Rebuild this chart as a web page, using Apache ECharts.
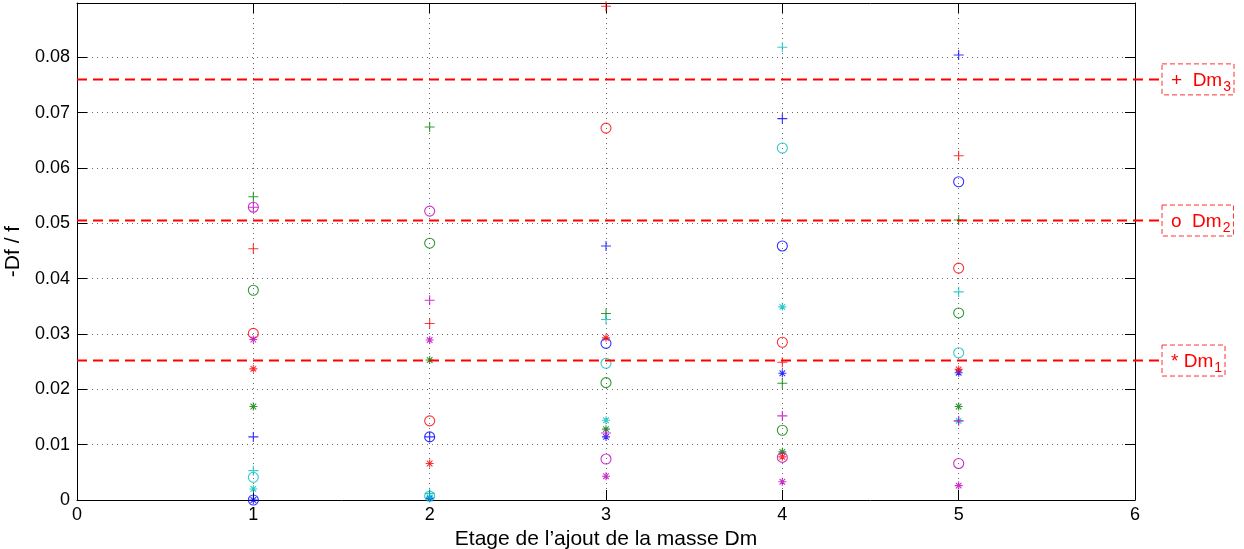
<!DOCTYPE html>
<html>
<head>
<meta charset="utf-8">
<title>Df/f</title>
<script src="https://cdn.jsdelivr.net/npm/echarts@6/dist/echarts.min.js"></script>
<style>
  html, body { margin: 0; padding: 0; background: #fff; }
  #chart { width: 1244px; height: 549px; }
</style>
</head>
<body>
<div id="chart"></div>
<script>
// etages (axe x)
var etages = [1, 2, 3, 4, 5];

// -Df/f, par couleur et par marqueur (+ : Dm3, o : Dm2, * : Dm1)
var bleuPlus = [0.0114, 0.0114, 0.0459, 0.0689, 0.0804];
var bleuRond = [0.0, 0.0114, 0.0283, 0.0459, 0.0575];
var bleuEtoile = [0.0, 0.0003, 0.0114, 0.0229, 0.0230];

var vertPlus = [0.0548, 0.0674, 0.0337, 0.0211, 0.0506];
var vertRond = [0.0379, 0.0464, 0.0212, 0.0126, 0.0338];
var vertEtoile = [0.0169, 0.0253, 0.0128, 0.0087, 0.0169];

var rougePlus = [0.0454, 0.0319, 0.0892, 0.0249, 0.0622];
var rougeRond = [0.0301, 0.0143, 0.0672, 0.0285, 0.0419];
var rougeEtoile = [0.0237, 0.0066, 0.0293, 0.0078, 0.0236];

var cyanPlus = [0.0053, 0.0012, 0.0326, 0.0818, 0.0376];
var cyanRond = [0.0041, 0.0007, 0.0247, 0.0636, 0.0266];
var cyanEtoile = [0.0020, 0.0005, 0.0144, 0.0349, 0.0143];

var magentaPlus = [0.0529, 0.0361, 0.0121, 0.0152, 0.0143];
var magentaRond = [0.0529, 0.0522, 0.0074, 0.0077, 0.0066];
var magentaEtoile = [0.0290, 0.0289, 0.0043, 0.0033, 0.0026];

// niveaux de reference (lignes rouges en tirets)
var refNoms = ['Dm1', 'Dm2', 'Dm3'];
var refSymboles = ['*', 'o', '+'];
var refIndices = ['1', '2', '3'];
var refNiveaux = [0.0252, 0.0505, 0.0760];

var xMin = 0, xMax = 6, xPas = 1;
var yMin = 0, yMax = 0.0898, yPas = 0.01;

var police = '"Liberation Sans", Arial, Helvetica, sans-serif';

var couleurs = {
  bleu: '#0000ff',
  vert: '#008000',
  rouge: '#ff0000',
  cyan: '#00bfbf',
  magenta: '#bf00bf'
};

// symboles facon matlab
var symPlus = 'path://M0,-5L0,5M-5,0L5,0';
var symEtoile = 'path://M0,-5L0,5M-5,0L5,0M-3.5,-3.5L3.5,3.5M-3.5,3.5L3.5,-3.5';

var groupes = [
  ['bleu', bleuPlus, bleuRond, bleuEtoile],
  ['vert', vertPlus, vertRond, vertEtoile],
  ['rouge', rougePlus, rougeRond, rougeEtoile],
  ['cyan', cyanPlus, cyanRond, cyanEtoile],
  ['magenta', magentaPlus, magentaRond, magentaEtoile]
];

function points(valeurs) {
  return etages.map(function(e, i) {
    return [e, valeurs[i]];
  });
}

function nuage(nom, couleur, valeurs, symbole, taille) {
  return {
    name: nom,
    type: 'scatter',
    xAxisIndex: 0,
    yAxisIndex: 0,
    symbol: symbole,
    symbolSize: taille,
    clip: true,
    silent: true,
    itemStyle: {
      color: 'none',
      borderColor: couleur,
      borderWidth: 1.1
    },
    data: points(valeurs)
  };
}

var series = [];
groupes.forEach(function(g) {
  var c = couleurs[g[0]];
  series.push(nuage(g[0] + ' +', c, g[1], symPlus, 10));
  series.push(nuage(g[0] + ' o', c, g[2], 'circle', 10));
  series.push(nuage(g[0] + ' *', c, g[3], symEtoile, 8));
});

// lignes de reference, dans une seconde grille plus large a droite
refNiveaux.forEach(function(v, i) {
  series.push({
    name: refNoms[i],
    type: 'line',
    xAxisIndex: 2,
    yAxisIndex: 2,
    symbol: 'none',
    silent: true,
    lineStyle: {
      color: '#ff0000',
      width: 2,
      type: [10, 6]
    },
    endLabel: {
      show: true,
      distance: 0,
      formatter: '{t|' + refSymboles[i] + (i === 0 ? ' ' : '  ') + 'Dm}{s|' + refIndices[i] + '}',
      color: '#ff0000',
      borderColor: '#ff3030',
      borderWidth: 1,
      borderType: [5, 3],
      padding: [6, 3, 3, 9],
      rich: {
        t: { fontFamily: police, fontSize: 19, color: '#ff0000', lineHeight: 22 },
        s: { fontFamily: police, fontSize: 14, color: '#ff0000', lineHeight: 14, padding: [13, 0, 0, 1] }
      }
    },
    data: [[0, v], [1, v]]
  });
});

var axeNoir = { show: true, onZero: false, lineStyle: { color: '#000', width: 1 } };
var tickNoir = { show: true, inside: true, length: 10, lineStyle: { color: '#000' } };
var grille = { show: true, lineStyle: { color: '#6a6a6a', width: 1, type: [1, 4] } };

var option = {
  animation: false,
  backgroundColor: '#fff',
  grid: [
    { left: 77, right: 109, top: 3, bottom: 49, containLabel: false, outerBoundsMode: 'none' },
    { left: 77, right: 82, top: 3, bottom: 49, containLabel: false, outerBoundsMode: 'none' }
  ],
  xAxis: [{
    type: 'value',
    gridIndex: 0,
    position: 'bottom',
    min: xMin, max: xMax, interval: xPas,
    name: 'Etage de l\u2019ajout de la masse Dm',
    nameLocation: 'middle',
    nameGap: 27,
    nameTextStyle: { fontFamily: police, fontSize: 21, color: '#000' },
    axisLine: axeNoir,
    axisTick: tickNoir,
    axisLabel: { fontFamily: police, fontSize: 18, color: '#000', margin: 6 },
    splitLine: grille
  }, {
    type: 'value',
    gridIndex: 0,
    position: 'top',
    min: xMin, max: xMax, interval: xPas,
    axisLine: axeNoir,
    axisTick: tickNoir,
    axisLabel: { show: false },
    splitLine: { show: false }
  }, {
    type: 'value',
    gridIndex: 1,
    min: 0, max: 1,
    show: false
  }],
  yAxis: [{
    type: 'value',
    gridIndex: 0,
    position: 'left',
    min: yMin, max: yMax, interval: yPas,
    name: '-Df / f',
    nameLocation: 'middle',
    nameGap: 40,
    nameTextStyle: { fontFamily: police, fontSize: 21, color: '#000' },
    axisLine: axeNoir,
    axisTick: tickNoir,
    axisLabel: {
      fontFamily: police, fontSize: 18, color: '#000', margin: 7,
      showMaxLabel: false,
      formatter: function(v) {
        return v === 0 ? '0' : v.toFixed(2);
      }
    },
    splitLine: grille
  }, {
    type: 'value',
    gridIndex: 0,
    position: 'right',
    min: yMin, max: yMax, interval: yPas,
    axisLine: axeNoir,
    axisTick: tickNoir,
    axisLabel: { show: false },
    splitLine: { show: false }
  }, {
    type: 'value',
    gridIndex: 1,
    min: yMin, max: yMax,
    show: false
  }],
  series: series
};

var myChart = echarts.init(document.getElementById('chart'));
myChart.setOption(option);
</script>
</body>
</html>
